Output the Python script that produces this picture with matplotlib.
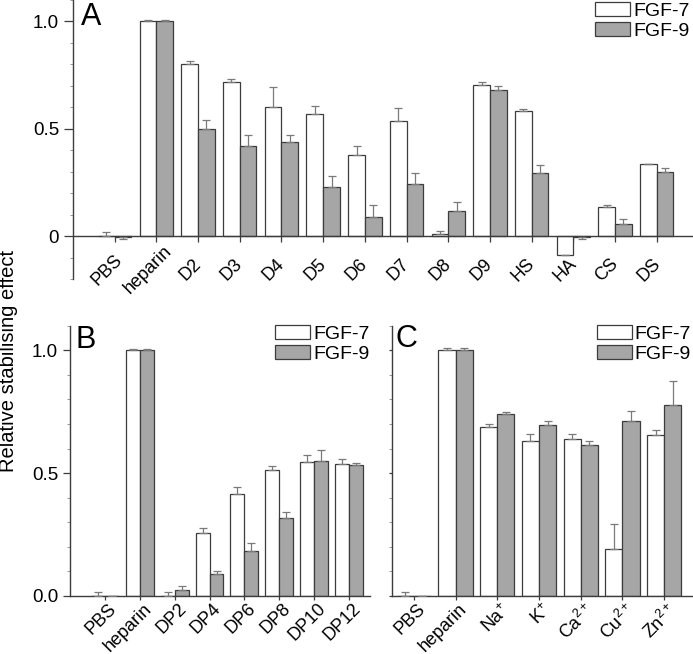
## imports
import numpy as np
import matplotlib
matplotlib.use("Agg")
import matplotlib.pyplot as plt
from matplotlib.patches import Patch
from matplotlib.transforms import ScaledTranslation
from matplotlib.ticker import MultipleLocator, FixedLocator, FixedFormatter

plt.rcParams['font.family'] = ['Liberation Sans', 'DejaVu Sans']
plt.rcParams['mathtext.fontset'] = 'custom'
plt.rcParams['mathtext.rm'] = 'Liberation Sans'
plt.rcParams['mathtext.it'] = 'Liberation Sans'

## data, panel A
cats_a = ["PBS", "heparin", "D2", "D3", "D4", "D5", "D6", "D7", "D8", "D9",
          "HS", "HA", "CS", "DS"]
fgf7_a = [0.002, 1.0, 0.80, 0.72, 0.60, 0.567, 0.376, 0.534, 0.008, 0.702,
          0.584, -0.089, 0.135, 0.335]
fgf7_a_err = [0.015, 0.005, 0.018, 0.014, 0.093, 0.04, 0.042, 0.061, 0.014,
              0.017, 0.006, 0.0, 0.008, 0.0]
fgf9_a = [-0.003, 1.0, 0.498, 0.419, 0.438, 0.231, 0.09, 0.242, 0.115, 0.68,
          0.295, -0.003, 0.056, 0.30]
fgf9_a_err = [0.012, 0.008, 0.045, 0.05, 0.033, 0.047, 0.056, 0.053, 0.042,
              0.019, 0.036, 0.012, 0.022, 0.018]

## data, panel B
cats_b = ["PBS", "heparin", "DP2", "DP4", "DP6", "DP8", "DP10", "DP12"]
fgf7_b = [0.0, 1.0, 0.0, 0.255, 0.417, 0.512, 0.544, 0.536]
fgf7_b_err = [0.015, 0.007, 0.016, 0.02, 0.025, 0.017, 0.029, 0.02]
fgf9_b = [0.0, 1.0, 0.023, 0.088, 0.182, 0.316, 0.548, 0.532]
fgf9_b_err = [0.0, 0.007, 0.016, 0.012, 0.032, 0.026, 0.045, 0.008]

## data, panel C
cats_c = ["PBS", "heparin", r"Na$^{+}$", r"K$^{+}$", r"Ca$^{2+}$",
          r"Cu$^{2+}$", r"Zn$^{2+}$"]
fgf7_c = [0.0, 1.0, 0.688, 0.631, 0.64, 0.191, 0.654]
fgf7_c_err = [0.015, 0.009, 0.011, 0.03, 0.018, 0.103, 0.02]
fgf9_c = [0.0, 1.0, 0.74, 0.695, 0.615, 0.714, 0.778]
fgf9_c_err = [0.0, 0.009, 0.01, 0.018, 0.015, 0.04, 0.096]

W, H = 693, 654
EDGE = '#3c3c3c'
GREY = '#a6a6a6'
ERRC = '#7a7a7a'


def px(x, y, w, h):
    ## pixel box (top-left origin) -> figure fraction rect
    return [x / W, 1 - (y + h) / H, w / W, h / H]


def draw_bars(ax, v7, e7, v9, e9, width):
    x = np.arange(len(v7))
    for vals, errs, off, fc in [(v7, e7, -width / 2, 'white'),
                                (v9, e9, width / 2, GREY)]:
        vals = np.asarray(vals)
        errs = np.asarray(errs)
        ax.bar(x + off, vals, width=width, color=fc, edgecolor=EDGE,
               linewidth=0.9, zorder=2)
        ## one sided error bars, pointing away from zero
        lo = np.where(vals < 0, errs, 0)
        hi = np.where(vals < 0, 0, errs)
        ax.errorbar(x + off, vals, yerr=[lo, hi], fmt='none', ecolor=ERRC,
                    elinewidth=0.9, capsize=2.8, capthick=0.9, zorder=3)
    return x


def style_axis(ax, major_len):
    for s in ['top', 'right']:
        ax.spines[s].set_visible(False)
    for s in ['left', 'bottom']:
        ax.spines[s].set_color(EDGE)
        ax.spines[s].set_linewidth(1.0)
    ax.yaxis.set_minor_locator(MultipleLocator(0.1))
    ax.tick_params(axis='y', which='major', direction='out', length=major_len,
                   width=0.9, color=EDGE, labelsize=13.5)
    ax.tick_params(axis='y', which='minor', direction='out', length=2,
                   width=0.7, color='#999999')


def add_legend(fig, x, y):
    handles = [Patch(facecolor='white', edgecolor=EDGE, linewidth=0.9),
               Patch(facecolor=GREY, edgecolor=EDGE, linewidth=0.9)]
    fig.legend(handles, ["FGF-7", "FGF-9"], loc='upper left',
               bbox_to_anchor=(x / W, 1 - y / H), frameon=False, fontsize=14,
               borderpad=0, borderaxespad=0, handlelength=1.8,
               handleheight=0.75, handletextpad=0.15, labelspacing=0.12)


def shift_labels(ax, dx):
    shift = ScaledTranslation(dx / 100, 0, fig.dpi_scale_trans)
    for lab in ax.get_xticklabels():
        lab.set_transform(lab.get_transform() + shift)


fig = plt.figure(figsize=(W / 100, H / 100), dpi=100)

## panel A
ax_a = fig.add_axes(px(73, 0, 620, 279))
x = draw_bars(ax_a, fgf7_a, fgf7_a_err, fgf9_a, fgf9_a_err, 0.4)
style_axis(ax_a, 6.5)
ax_a.set_xlim(-1, 13.87)
ax_a.set_ylim(-0.2, 1.1)
ax_a.spines['bottom'].set_position(('data', 0))
ax_a.yaxis.set_major_locator(FixedLocator([0, 0.5, 1.0]))
ax_a.yaxis.set_major_formatter(FixedFormatter(["0", "0.5", "1.0"]))
ax_a.set_xticks(x)
ax_a.set_xticklabels(cats_a, rotation=45, ha='center', va='center',
                     rotation_mode='anchor', fontsize=13)
ax_a.tick_params(axis='x', direction='out', length=4, width=0.9, color=EDGE,
                 pad=20.5)
shift_labels(ax_a, -8)
add_legend(fig, 595, 2)
fig.text(81 / W, 1 - 25 / H, "A", fontsize=22, ha='left', va='baseline')

## panel B
ax_b = fig.add_axes(px(70, 325.7, 300, 270.3))
x = draw_bars(ax_b, fgf7_b, fgf7_b_err, fgf9_b, fgf9_b_err, 0.4)
style_axis(ax_b, 5)
ax_b.set_xlim(-1, 7.6)
ax_b.set_ylim(0, 1.1)
ax_b.yaxis.set_major_locator(FixedLocator([0, 0.5, 1.0]))
ax_b.yaxis.set_major_formatter(FixedFormatter(["0.0", "0.5", "1.0"]))
ax_b.set_xticks(x)
ax_b.set_xticklabels(cats_b, rotation=45, ha='right', va='top',
                     rotation_mode='anchor', fontsize=13)
ax_b.tick_params(axis='x', direction='out', length=3, width=0.9, color=EDGE,
                 pad=0)
shift_labels(ax_b, 3)
add_legend(fig, 275, 325)
fig.text(76 / W, 1 - 348 / H, "B", fontsize=22, ha='left', va='baseline')

## panel C
ax_c = fig.add_axes(px(391.7, 325.7, 301.3, 270.3))
x = draw_bars(ax_c, fgf7_c, fgf7_c_err, fgf9_c, fgf9_c_err, 0.41)
style_axis(ax_c, 2.5)
ax_c.set_xlim(-0.53, 6.69)
ax_c.set_ylim(0, 1.1)
ax_c.yaxis.set_major_locator(FixedLocator([0, 0.5, 1.0]))
ax_c.set_yticklabels([])
ax_c.set_xticks(x)
ax_c.set_xticklabels(cats_c, rotation=45, ha='right', va='top',
                     rotation_mode='anchor', fontsize=13)
ax_c.tick_params(axis='x', direction='out', length=3, width=0.9, color=EDGE,
                 pad=0)
shift_labels(ax_c, 3)
add_legend(fig, 596.7, 325)
fig.text(395 / W, 1 - 347 / H, "C", fontsize=22, ha='left', va='baseline')

## shared y label
fig.text(9 / W, 1 - 361 / H, "Relative stabilising effect", rotation=90,
         fontsize=14.5, ha='center', va='center')

plt.savefig("out.png", dpi=100)
